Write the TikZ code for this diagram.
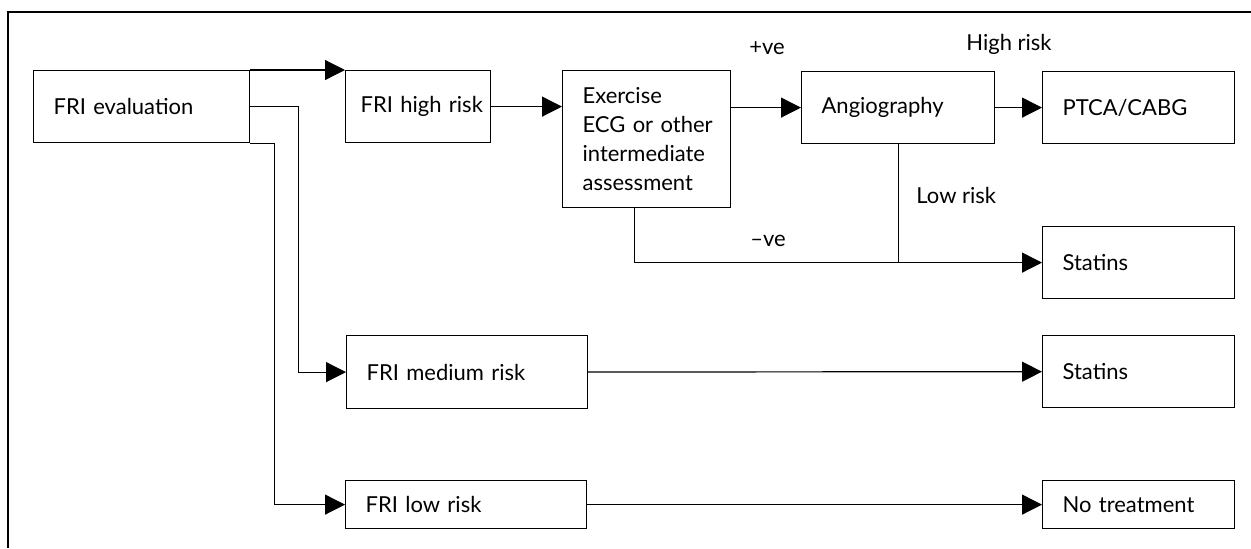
\documentclass[tikz,border=0pt]{standalone}
\usepackage{fontspec}
\setmainfont{Lato}
\usepackage{tikz}
\usetikzlibrary{arrows.meta, positioning, calc}

\begin{document}
\begin{tikzpicture}[
    x=0.5pt, y=-0.5pt,
    box/.style={rectangle, draw, line width=0.6pt, anchor=north west, inner xsep=10pt, inner ysep=0pt, align=left, font=\fontsize{11}{14.5}\selectfont},
    lbl/.style={font=\fontsize{11}{14.5}\selectfont, inner sep=0pt},
    arrow/.style={-{Triangle[length=10pt, width=10pt]}, line width=0.6pt},
    link/.style={line width=0.6pt}
]
\useasboundingbox (0,0) rectangle (1251,548);
% Frame
\draw[line width=0.7pt] (8,548) -- (8,12) -- (1251,12);

% Evaluation and risk groups
\node[box, text width=88pt, minimum height=36pt] (eval) at (33,70) {FRI evaluation};
\node[box, inner xsep=7.5pt, text width=57.5pt, minimum height=36pt] (high) at (345,70) {\mbox{FRI high risk}};
\node[box, text width=100.5pt, minimum height=36.5pt] (medium) at (346,335) {FRI medium risk};
\node[box, text width=100.5pt, minimum height=24pt] (low) at (345,480) {FRI low risk};

% High risk pathway
\node[box, text width=64pt, minimum height=68.5pt] (exercise) at (562,70) {Exercise\\\mbox{ECG or other}\\\mbox{intermediate}\\\mbox{assessment}};
\node[box, text width=76.5pt, minimum height=36pt] (angio) at (801,71) {Angiography};

% Outcomes
\node[box, text width=76pt, minimum height=36pt] (ptca) at (1042,71) {PTCA/CABG};
\node[box, text width=76pt, minimum height=36pt] (statinsA) at (1042,226) {Statins};
\node[box, text width=76pt, minimum height=36pt] (statinsB) at (1042,335) {Statins};
\node[box, text width=76pt, minimum height=24pt] (notreat) at (1042,480) {No treatment};

% Labels
\node[lbl] (pos) at (767,48) {+ve};
\node[lbl] (neg) at (768,241) {–ve};
\node[lbl, anchor=west] (lowrisk) at (916,195) {Low risk};
\node[lbl, anchor=west] (highrisk) at (966,44) {High risk};

% Arrows
\draw[arrow] (eval.north east) -- (high.north west);
\draw[arrow] (eval.east) -- ++(48,0) |- (medium.west);
\draw[arrow] (eval.south east) -- ++(24,0) |- (low.west);
\draw[arrow] (high.east) -- (high.east -| exercise.west);
\draw[arrow] (angio.west -| exercise.east) -- (angio.west);
\draw[arrow] (angio) -- (ptca);
\draw[arrow] ([xshift=-6pt]exercise.south) |- (statinsA.west);
\draw[link] (angio.south) -- (angio.south |- statinsA.west);
\draw[arrow] (medium) -- (statinsB);
\draw[arrow] (low) -- (notreat);
\end{tikzpicture}
\end{document}
